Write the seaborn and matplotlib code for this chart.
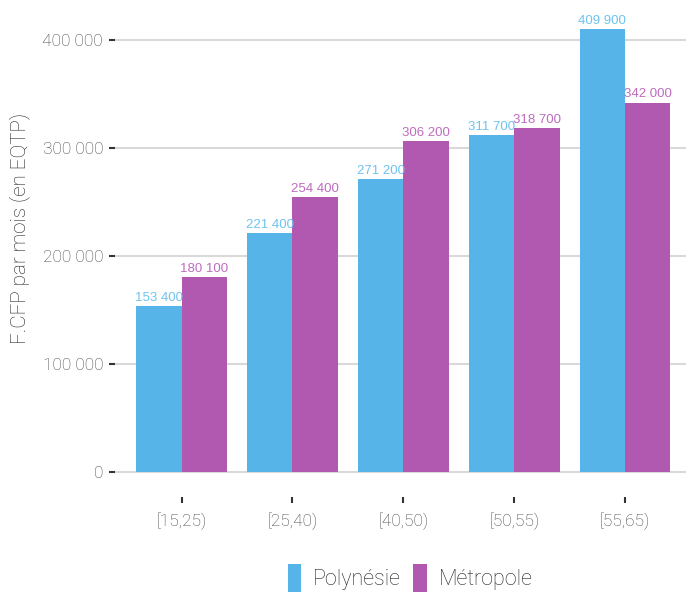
import pandas as pd
import seaborn as sns
import matplotlib.pyplot as plt
from matplotlib.ticker import FuncFormatter
from matplotlib.patches import Patch

tranches = ['[15,25)', '[25,40)', '[40,50)', '[50,55)', '[55,65)']
polynesie = [153400, 221400, 271200, 311700, 409900]
metropole = [180100, 254400, 306200, 318700, 342000]
zones = ['Polynésie', 'Métropole']
couleurs = ['#56B4E9', '#B159B0']
couleurs_texte = ['#6EC3F0', '#BE6CBE']

df = pd.DataFrame({
    'age': tranches * 2,
    'salaire': polynesie + metropole,
    'zone': [zones[0]] * 5 + [zones[1]] * 5,
})

sns.set_style('white')
plt.rcParams['font.family'] = ['Roboto', 'DejaVu Sans']

def fmt(v):
    return f'{int(round(v)):,}'.replace(',', ' ')

fig = plt.figure(figsize=(6.86, 5.92), dpi=100)
ax = fig.add_axes([115 / 686, 95 / 592, 1 - 115 / 686, 490 / 592])

sns.barplot(data=df, x='age', y='salaire', hue='zone', palette=couleurs,
            width=0.82, gap=0, saturation=1, legend=False, linewidth=0, ax=ax)

for cont, col in zip(ax.containers, couleurs_texte):
    for bar in cont:
        h = bar.get_height()
        ax.text(bar.get_x() + bar.get_width() / 2, h + 2000, fmt(h),
                ha='center', va='bottom', color=col, fontsize=9.5,
                family=['Liberation Sans', 'DejaVu Sans'])

ax.set_xlim(-0.6, 4.55)
ax.set_ylim(-23150, 430555)
ax.set_yticks([0, 100000, 200000, 300000, 400000])
ax.yaxis.set_major_formatter(FuncFormatter(lambda v, p: fmt(v)))
ax.grid(axis='y', color='#d9d9d9', linewidth=1.5)
ax.grid(axis='x', visible=False)
ax.set_axisbelow(True)
for s in ax.spines.values():
    s.set_visible(False)

ax.tick_params(axis='y', left=True, length=4.3, width=1.5, color='#333333',
               pad=4.3, labelsize=12.5, labelcolor='#444444')
ax.tick_params(axis='x', bottom=True, length=4.3, width=1.5, color='#333333',
               pad=6.5, labelsize=12.5, labelcolor='#444444')
for t in ax.get_xticklabels() + ax.get_yticklabels():
    t.set_fontweight('light')

ax.set_xlabel('')
ax.set_ylabel('F.CFP par mois (en EQTP)', fontsize=14.9, color='#222222',
              fontweight='light')
ax.yaxis.set_label_coords(-0.148, 0.548)

handles = [Patch(facecolor=c, label=z, linewidth=0) for c, z in zip(couleurs, zones)]
fig.legend(handles=handles, loc='center', bbox_to_anchor=(410 / 686, 14 / 592),
           ncol=2, frameon=False, handlelength=0.64,
           handleheight=1.64, handletextpad=0.55, columnspacing=0.55,
           labelcolor='#222222', prop={'weight': 'light', 'size': 15.5})

fig.savefig('out.png', dpi=100)
